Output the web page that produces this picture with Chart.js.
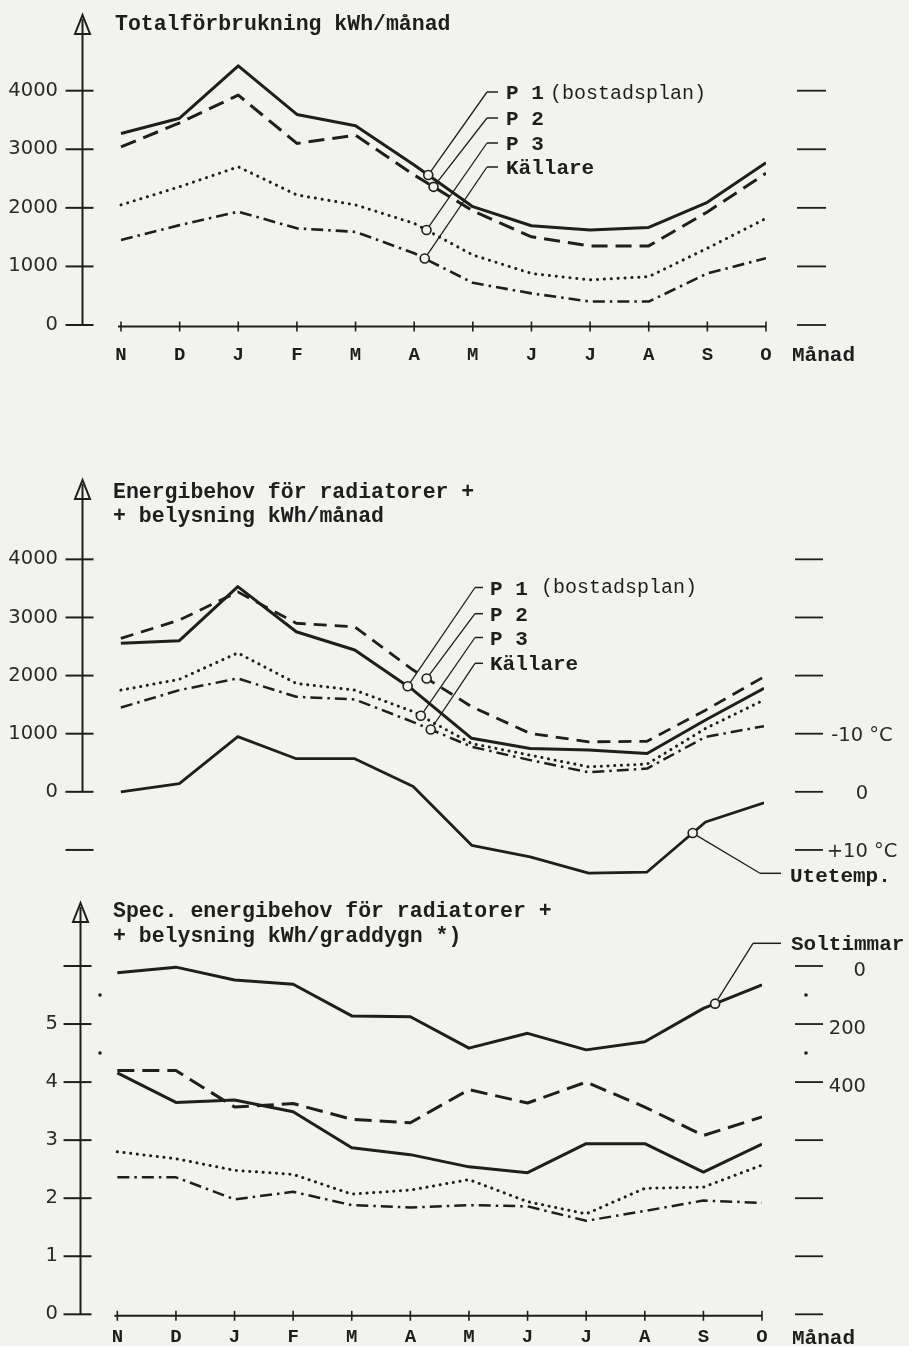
<!DOCTYPE html>
<html>
<head>
<meta charset="utf-8">
<script src="https://cdn.jsdelivr.net/npm/chart.js@4.4.1/dist/chart.umd.min.js"></script>
<style>
  html, body { margin: 0; padding: 0; background: #f2f2ef; }
  #wrap { position: relative; width: 909px; height: 1346px; overflow: hidden; }
  #wrap canvas { position: absolute; left: 0; top: 0; }
</style>
</head>
<body>
<div id="wrap">
  <canvas id="c1" width="909" height="1346"></canvas>
  <canvas id="c2" width="909" height="1346"></canvas>
  <canvas id="c3" width="909" height="1346"></canvas>
</div>
<script>
var months = ['N', 'D', 'J', 'F', 'M', 'A', 'M', 'J', 'J', 'A', 'S', 'O'];

// Totalförbrukning kWh/månad
var totP1 = [3270, 3530, 4425, 3595, 3400, 2730, 2020, 1695, 1620, 1665, 2095, 2770];
var totP2 = [3040, 3450, 3925, 3100, 3240, 2560, 1950, 1505, 1350, 1350, 1930, 2590];
var totP3 = [2050, 2360, 2700, 2220, 2050, 1735, 1195, 880, 770, 825, 1310, 1820];
var totKallare = [1450, 1705, 1935, 1650, 1590, 1225, 720, 540, 400, 400, 880, 1140];
var ticks1 = [0, 1000, 2000, 3000, 4000];
var labels1 = ['0', '1000', '2000', '3000', '4000'];

// Energibehov för radiatorer + belysning kWh/månad, utetemp °C
var radP1 = [2555, 2600, 3530, 2755, 2440, 1750, 920, 745, 718, 660, 1235, 1780];
var radP2 = [2640, 2955, 3440, 2900, 2840, 2095, 1465, 1005, 860, 870, 1405, 1980];
var radP3 = [1750, 1935, 2390, 1865, 1750, 1380, 830, 630, 430, 477, 1090, 1580];
var radKallare = [1450, 1750, 1950, 1635, 1590, 1200, 775, 545, 335, 400, 945, 1130];
var uteTemp = [0, -1.4, -9.5, -5.7, -5.7, -0.9, 9.2, 11.2, 14.0, 13.8, 5.2, 1.9];
var ticks2 = [-1000, 0, 1000, 2000, 3000, 4000];
var labels2 = ['', '0', '1000', '2000', '3000', '4000'];
var tempTicks = [-10, 0, 10];
var tempLabels = ['-10 °C', '0', '+10 °C'];

// Spec. energibehov kWh/graddygn, soltimmar
var specP1 = [4.16, 3.65, 3.69, 3.49, 2.87, 2.75, 2.54, 2.44, 2.94, 2.94, 2.45, 2.93];
var specP2 = [4.2, 4.2, 3.57, 3.63, 3.36, 3.3, 3.87, 3.64, 4.0, 3.57, 3.08, 3.4];
var specP3 = [2.8, 2.68, 2.48, 2.41, 2.07, 2.14, 2.32, 1.94, 1.73, 2.17, 2.19, 2.57];
var specKallare = [2.36, 2.36, 1.98, 2.11, 1.88, 1.84, 1.88, 1.86, 1.61, 1.78, 1.96, 1.92];
var solTimmar = [23, 4, 48, 63, 172, 175, 283, 232, 289, 261, 146, 65];
var ticks3 = [0, 1, 2, 3, 4, 5, 6];
var labels3 = ['0', '1', '2', '3', '4', '5', ''];
var solTicks = [0, 200, 400, 600, 800, 1000, 1200];
var solLabels = ['0', '200', '400', '', '', '', ''];
var solMinor = [100, 300];

var ink = '#1e1e1e';
var paper = '#f2f2ef';
var mono = "'Liberation Mono', 'DejaVu Sans Mono', monospace";
var titleFont = 'bold 21.5px ' + mono;
var labelFont = 'bold 21px ' + mono;
var lightFont = '20px ' + mono;
var numFont = "19.5px 'DejaVu Sans', sans-serif";

function pts(values) {
  return values.map(function (v, i) { return { x: i, y: v }; });
}

function series(values, dash, width, axis) {
  var dotted = dash.length === 2 && dash[0] < 1;
  return {
    data: pts(values),
    borderColor: ink,
    borderWidth: width,
    borderDash: dash,
    borderCapStyle: dotted ? 'round' : 'butt',
    borderJoinStyle: 'round',
    fill: false,
    tension: 0,
    pointRadius: 0,
    yAxisID: axis || 'y'
  };
}

function xScale(min, show, height, pad) {
  return {
    type: 'linear', min: min, max: 11, display: show,
    border: { display: false },
    grid: { display: false, drawTicks: false },
    afterBuildTicks: function (s) { s.ticks = months.map(function (m, i) { return { value: i }; }); },
    afterFit: function (s) { s.height = height; s.paddingLeft = 0; s.paddingRight = 0; },
    ticks: {
      autoSkip: false, maxRotation: 0, padding: pad, color: ink,
      font: { family: mono, size: 19, weight: 'bold' },
      callback: function (v, i) { return months[i]; }
    }
  };
}

function yScale(min, max, tickVals, tickLabels, width, pad) {
  return {
    type: 'linear', position: 'left', min: min, max: max,
    border: { display: false },
    grid: { display: false, drawTicks: false },
    afterBuildTicks: function (s) { s.ticks = tickVals.map(function (v) { return { value: v }; }); },
    afterFit: function (s) { s.width = width; s.paddingTop = 0; s.paddingBottom = 0; },
    ticks: {
      autoSkip: false, padding: pad, color: '#2a2a2a',
      font: { family: "'DejaVu Sans', sans-serif", size: 19.5 },
      callback: function (v, i) { return tickLabels[i]; }
    }
  };
}

function seg(ctx, x1, y1, x2, y2, w) {
  ctx.lineWidth = w;
  ctx.beginPath();
  ctx.moveTo(x1, y1);
  ctx.lineTo(x2, y2);
  ctx.stroke();
}

function valueAt(arr, at) {
  var i = Math.floor(at), f = at - i;
  return arr[i] + (arr[i + 1] - arr[i]) * f;
}

// axis decorations, callouts and texts for each panel
var decos = {
  c1: {
    leftTicks: ticks1, xAxis: true,
    rightAxis: 'y', rightTicks: ticks1, rightX: [797, 826],
    callouts: [
      { data: totP1, axis: 'y', at: 5.24, to: [487, 92], stub: 498 },
      { data: totP2, axis: 'y', at: 5.33, to: [487, 118], stub: 498 },
      { data: totP3, axis: 'y', at: 5.21, to: [487, 143], stub: 498 },
      { data: totKallare, axis: 'y', at: 5.18, to: [487, 167], stub: 498 }
    ],
    texts: [
      { t: 'Totalförbrukning kWh/månad', x: 115, y: 30, f: titleFont },
      { t: 'P 1', x: 506, y: 99, f: labelFont },
      { t: '(bostadsplan)', x: 550, y: 99, f: lightFont },
      { t: 'P 2', x: 506, y: 125, f: labelFont },
      { t: 'P 3', x: 506, y: 150, f: labelFont },
      { t: 'Källare', x: 506, y: 174, f: labelFont },
      { t: 'Månad', x: 792, y: 361, f: labelFont }
    ]
  },
  c2: {
    leftTicks: ticks2, xAxis: false,
    rightAxis: 'y', rightTicks: ticks2, rightX: [795, 823],
    rightLabels: { axis: 'temp', values: tempTicks, labels: tempLabels, x: 862, align: 'center', dy: 7.5 },
    callouts: [
      { data: radP1, axis: 'y', at: 4.905, to: [475, 587.5], stub: 483 },
      { data: radP2, axis: 'y', at: 5.23, to: [475, 613.7], stub: 483 },
      { data: radP3, axis: 'y', at: 5.13, to: [475, 637.5], stub: 483 },
      { data: radKallare, axis: 'y', at: 5.30, to: [475, 663.3], stub: 483 },
      { data: uteTemp, axis: 'temp', at: 9.78, to: [760, 873.3], stub: 781 }
    ],
    texts: [
      { t: 'Energibehov för radiatorer +', x: 113, y: 498, f: titleFont },
      { t: '+ belysning kWh/månad', x: 113, y: 521.5, f: titleFont },
      { t: 'P 1', x: 490, y: 595, f: labelFont },
      { t: '(bostadsplan)', x: 541, y: 593, f: lightFont },
      { t: 'P 2', x: 490, y: 620.7, f: labelFont },
      { t: 'P 3', x: 490, y: 645, f: labelFont },
      { t: 'Källare', x: 490, y: 670, f: labelFont },
      { t: 'Utetemp.', x: 790, y: 881.7, f: labelFont }
    ]
  },
  c3: {
    leftTicks: ticks3, xAxis: true,
    rightAxis: 'sol', rightTicks: solTicks, rightX: [795, 823],
    rightLabels: { axis: 'sol', values: solTicks, labels: solLabels, x: 866, align: 'right', dy: 10 },
    dots: { axis: 'sol', values: solMinor, xs: [100, 806] },
    callouts: [
      { data: solTimmar, axis: 'sol', at: 10.2, to: [753, 943.3], stub: 781 }
    ],
    texts: [
      { t: 'Spec. energibehov för radiatorer +', x: 113, y: 916.7, f: titleFont },
      { t: '+ belysning kWh/graddygn *)', x: 113, y: 941.7, f: titleFont },
      { t: 'Soltimmar', x: 791, y: 950, f: labelFont },
      { t: 'Månad', x: 792, y: 1344, f: labelFont }
    ]
  }
};

var decoPlugin = {
  id: 'deco',
  beforeDatasetsDraw: function (chart) {
    var d = decos[chart.canvas.id];
    var ctx = chart.ctx, ca = chart.chartArea, ys = chart.scales.y, xs = chart.scales.x;
    ctx.save();
    ctx.strokeStyle = ink;
    ctx.fillStyle = ink;
    var ax = ca.left + 0.5;
    var y0 = ys.getPixelForValue(0);
    // y axis with open arrow head
    ctx.lineWidth = 2;
    ctx.beginPath();
    ctx.moveTo(ax, ca.top);
    ctx.lineTo(ax - 7.5, ca.top + 19);
    ctx.lineTo(ax + 7.5, ca.top + 19);
    ctx.closePath();
    ctx.stroke();
    seg(ctx, ax, ca.top + 4, ax, y0, 2);
    d.leftTicks.forEach(function (v) {
      var p = ys.getPixelForValue(v);
      seg(ctx, ax - 17, p, ax + 11, p, 2);
    });
    if (d.xAxis) {
      var xa = y0 + 1.5;
      seg(ctx, xs.getPixelForValue(0) - 3, xa, xs.getPixelForValue(11), xa, 2);
      for (var i = 0; i < months.length; i++) {
        var px = xs.getPixelForValue(i);
        seg(ctx, px, xa - 5, px, xa + 5, 1.6);
      }
    }
    var rs = chart.scales[d.rightAxis];
    d.rightTicks.forEach(function (v) {
      var p = rs.getPixelForValue(v);
      seg(ctx, d.rightX[0], p, d.rightX[1], p, 1.8);
    });
    if (d.dots) {
      var ds = chart.scales[d.dots.axis];
      d.dots.values.forEach(function (v) {
        d.dots.xs.forEach(function (x) {
          ctx.beginPath();
          ctx.arc(x, ds.getPixelForValue(v), 1.8, 0, Math.PI * 2);
          ctx.fill();
        });
      });
    }
    if (d.rightLabels) {
      var rl = d.rightLabels, ls = chart.scales[rl.axis];
      ctx.font = numFont;
      ctx.textAlign = rl.align;
      ctx.textBaseline = 'alphabetic';
      ctx.fillStyle = '#2a2a2a';
      rl.values.forEach(function (v, i) {
        if (rl.labels[i]) ctx.fillText(rl.labels[i], rl.x, ls.getPixelForValue(v) + rl.dy);
      });
    }
    ctx.restore();
  },
  afterDatasetsDraw: function (chart) {
    var d = decos[chart.canvas.id];
    var ctx = chart.ctx, xs = chart.scales.x;
    ctx.save();
    ctx.strokeStyle = ink;
    ctx.fillStyle = ink;
    d.callouts.forEach(function (c) {
      var cx = xs.getPixelForValue(c.at);
      var cy = chart.scales[c.axis].getPixelForValue(valueAt(c.data, c.at));
      var ang = Math.atan2(c.to[1] - cy, c.to[0] - cx);
      var r = 4.5;
      seg(ctx, cx + r * Math.cos(ang), cy + r * Math.sin(ang), c.to[0], c.to[1], 1.3);
      seg(ctx, c.to[0], c.to[1], c.stub, c.to[1], 1.5);
      ctx.beginPath();
      ctx.arc(cx, cy, r, 0, Math.PI * 2);
      ctx.fillStyle = paper;
      ctx.fill();
      ctx.lineWidth = 1.6;
      ctx.stroke();
      ctx.fillStyle = ink;
    });
    ctx.textAlign = 'left';
    ctx.textBaseline = 'alphabetic';
    d.texts.forEach(function (t) {
      ctx.font = t.f;
      ctx.fillText(t.t, t.x, t.y);
    });
    ctx.restore();
  }
};

function makeChart(id, datasets, scales, padding) {
  return new Chart(document.getElementById(id), {
    type: 'line',
    data: { datasets: datasets },
    options: {
      responsive: false,
      animation: false,
      devicePixelRatio: 1,
      layout: { padding: padding },
      plugins: { legend: { display: false }, tooltip: { enabled: false } },
      scales: scales
    },
    plugins: [decoPlugin]
  });
}

// panel 1
makeChart('c1', [
  series(totP1, [], 3),
  series(totP2, [16, 8], 3),
  series(totP3, [0.1, 6.8], 3),
  series(totKallare, [12, 5, 2.5, 5], 2.6)
], {
  x: xScale(-0.665, true, 45, 19),
  y: yScale(0, 5292, ticks1, labels1, 82, 24)
}, { top: 15, right: 143, bottom: 976, left: 0 });

// panel 2
makeChart('c2', [
  series(radP1, [], 3),
  series(radP2, [13, 8], 2.8),
  series(radP3, [0.1, 6.6], 3),
  series(radKallare, [12, 5, 2.5, 5], 2.5),
  series(uteTemp, [], 2.8, 'temp')
], {
  x: xScale(-0.665, false, 0, 0),
  y: yScale(-1500, 5365, ticks2, labels2, 82, 24),
  temp: { type: 'linear', display: false, reverse: true, min: -53.65, max: 15 }
}, { top: 480, right: 145, bottom: 467, left: 0 });

// panel 3
makeChart('c3', [
  series(solTimmar, [], 3, 'sol'),
  series(specP1, [], 3),
  series(specP2, [17, 8], 3),
  series(specP3, [0.1, 6.6], 3),
  series(specKallare, [12, 5, 2.5, 5], 2.5)
], {
  x: xScale(-0.637, true, 31.7, 11.5),
  y: yScale(0, 7.085, ticks3, labels3, 80, 22),
  sol: { type: 'linear', display: false, reverse: true, min: -217, max: 1200 }
}, { top: 903, right: 147, bottom: 0, left: 0 });
</script>
</body>
</html>
